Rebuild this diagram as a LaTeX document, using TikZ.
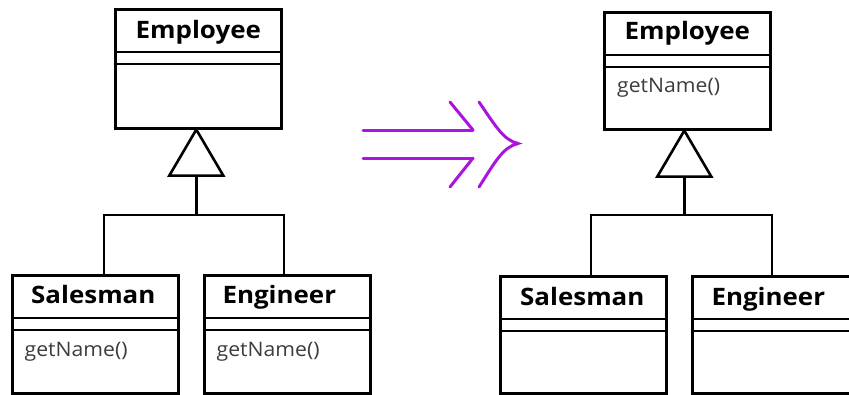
\documentclass[tikz,border=0pt]{standalone}
\usepackage{fontspec}
\setmainfont{Open Sans}
\newfontfamily\titlefont{Open Sans}[FakeStretch=1.08]
\newfontfamily\opfont{Open Sans}[FakeStretch=1.06]
\usetikzlibrary{calc}
\definecolor{arrowpurple}{RGB}{170,20,220}
\definecolor{opgray}{RGB}{60,60,60}
\begin{document}
\begin{tikzpicture}[x=1pt,y=-1pt,
  classbox/.style={draw, line width=2.6pt, rectangle, inner sep=0pt, anchor=north west, minimum width=166pt},
  sep/.style={line width=1.6pt},
  title/.style={font=\titlefont\bfseries\fontsize{24}{28}\selectfont, inner sep=0pt, anchor=base},
  op/.style={font=\opfont\fontsize{20}{24}\selectfont, text=opgray, inner sep=0pt, anchor=base west},
  gen/.style={line width=2.6pt},
  morph/.style={draw=arrowpurple, line width=3pt, line cap=round}]
\useasboundingbox (0,0) rectangle (849,394);

% ---------- left diagram ----------
\node[classbox, minimum height=119pt] (empL) at (114,8) {};
\node[classbox, minimum height=118pt] (salL) at (11,274) {};
\node[classbox, minimum height=118pt] (engL) at (203,274) {};

\node[title] (empLt) at ($(empL.north)+(0,30)$) {Employee};
\node[title] (salLt) at ($(salL.north)+(-2,29)$) {Salesman};
\node[title] (engLt) at ($(engL.north)+(-8,29)$) {Engineer};

\foreach \b in {empL,salL,engL}{
  \draw[sep] ($(\b.north west)+(0,44)$) -- ($(\b.north east)+(0,44)$);
  \draw[sep] ($(\b.north west)+(0,56)$) -- ($(\b.north east)+(0,56)$);
}
\node[op] (salLop) at ($(salL.north west)+(13.5,82.5)$) {getName()};
\node[op] (engLop) at ($(engL.north west)+(13.5,82.5)$) {getName()};

\coordinate (tipL) at ($(empL.south)+(-2,0)$);
\draw[gen, fill=white] (tipL) -- ++(-27,46) -- ++(54,0) -- cycle;
\coordinate (baseL) at ($(tipL)+(0,46)$);
\coordinate (sTopL) at ($(salL.north west)+(93,0)$);
\coordinate (eTopL) at ($(engL.north west)+(81,0)$);
\coordinate (jL) at ($(sTopL)+(0,-59)$);
\draw[gen] (baseL) -- (baseL |- jL);
\draw[gen] (sTopL) -- (jL) -| (eTopL);

% ---------- transformation arrow ----------
\coordinate (a1) at (363,130);
\coordinate (a2) at (473,130);
\coordinate (a3) at (363,158);
\coordinate (a4) at (473,158);
\draw[morph] (a1) -- (a2);
\draw[morph] (a3) -- (a4);
\draw[morph] (450,102) -- (a2);
\draw[morph] (a4) -- (450,187);
\draw[morph, line join=miter] (479,102) .. controls (495,125) and (503,140) .. (518,143.5)
                      .. controls (503,147) and (495,162) .. (479,187);

% ---------- right diagram ----------
\node[classbox, minimum height=117pt] (empR) at (603,11) {};
\node[classbox, minimum height=117pt] (salR) at (499,275) {};
\node[classbox, minimum height=117pt] (engR) at (691,275) {};

\node[title] (empRt) at ($(empR.north)+(0,28.5)$) {Employee};
\node[title] (salRt) at ($(salR.north)+(-1,30)$) {Salesman};
\node[title] (engRt) at ($(engR.north)+(-7,30)$) {Engineer};

\foreach \b in {empR,salR,engR}{
  \draw[sep] ($(\b.north west)+(0,44)$) -- ($(\b.north east)+(0,44)$);
  \draw[sep] ($(\b.north west)+(0,56)$) -- ($(\b.north east)+(0,56)$);
}
\node[op] (empRop) at ($(empR.north west)+(14,81.5)$) {getName()};

\coordinate (tipR) at ($(empR.south)+(-3,0)$);
\draw[gen, fill=white] (tipR) -- ++(-27,46) -- ++(54,0) -- cycle;
\coordinate (baseR) at ($(tipR)+(0,46)$);
\coordinate (sTopR) at ($(salR.north west)+(92,0)$);
\coordinate (eTopR) at ($(engR.north west)+(81,0)$);
\coordinate (jR) at ($(sTopR)+(0,-60)$);
\draw[gen] (baseR) -- (baseR |- jR);
\draw[gen] (sTopR) -- (jR) -| (eTopR);
\end{tikzpicture}
\end{document}
